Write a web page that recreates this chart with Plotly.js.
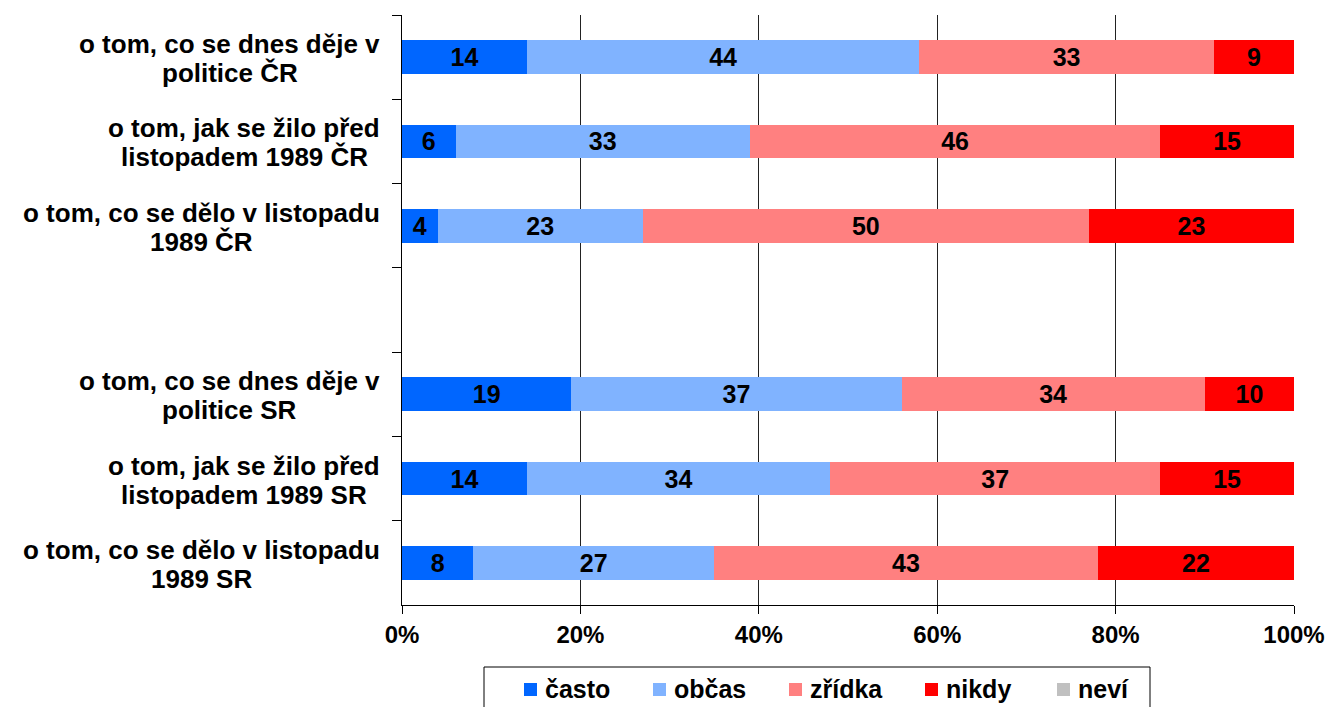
<!DOCTYPE html>
<html>
<head>
<meta charset="utf-8">
<script src="https://cdn.plot.ly/plotly-3.0.1.min.js"></script>
<style>html,body{margin:0;padding:0;background:#fff;}#chart{width:1328px;height:707px;}</style>
</head>
<body>
<div id="chart"></div>
<script>
// Categories from top to bottom (one empty spacer slot); each label has two lines
const categories = ["cr_now", "cr_before", "cr_nov", "gap", "sr_now", "sr_before", "sr_nov"];
const labelLine1 = [
  "o tom, co se dnes děje v",
  "o tom, jak se žilo před",
  "o tom, co se dělo v listopadu",
  "",
  "o tom, co se dnes děje v",
  "o tom, jak se žilo před",
  "o tom, co se dělo v listopadu"
];
const labelLine2 = [
  "politice ČR",
  "listopadem 1989 ČR",
  "1989 ČR",
  "",
  "politice SR",
  "listopadem 1989 SR",
  "1989 SR"
];
const barCategories = ["cr_now", "cr_before", "cr_nov", "sr_now", "sr_before", "sr_nov"];
const casto  = [14, 6, 4, 19, 14, 8];
const obcas  = [44, 33, 23, 37, 34, 27];
const zridka = [33, 46, 50, 34, 37, 43];
const nikdy  = [9, 15, 23, 10, 15, 22];
const nevi   = [0, 0, 0, 0, 0, 0];
const seriesNames = ["často", "občas", "zřídka", "nikdy", "neví"];
const xTicks = [0, 20, 40, 60, 80, 100];

const colors = ["#0066FF", "#80B3FF", "#FF8080", "#FF0000", "#C0C0C0"];
const FONT = "Liberation Sans, Arial, sans-serif";
const seriesData = [casto, obcas, zridka, nikdy, nevi];

const traces = seriesData.map((vals, i) => ({
  type: "bar",
  orientation: "h",
  name: seriesNames[i],
  y: barCategories,
  x: vals,
  marker: {color: colors[i], line: {width: 0}},
  text: vals.map(v => v > 0 ? String(v) : ""),
  textposition: "inside",
  insidetextanchor: "middle",
  textangle: 0,
  constraintext: "none",
  textfont: {family: FONT, size: 25, color: "#000", weight: "bold"},
  hoverinfo: "skip"
}));

const L = 402, R = 1294, T = 15, B = 605;
const PW = R - L, PH = B - T;
const px2x = p => (p - L) / PW;
const px2y = p => (B - p) / PH;

const layout = {
  width: 1328, height: 707,
  margin: {l: L, r: 1328 - R, t: T, b: 707 - B},
  paper_bgcolor: "#fff", plot_bgcolor: "#fff",
  barmode: "stack",
  bargap: 0.6,
  showlegend: false,
  font: {family: FONT, size: 24, color: "#000", weight: "bold"},
  xaxis: {
    range: [0, 100],
    tickvals: xTicks,
    ticktext: xTicks.map(v => v + "%"),
    showgrid: true, gridcolor: "#222", gridwidth: 1,
    zeroline: false,
    showline: true, linecolor: "#000", linewidth: 1,
    ticks: "outside", ticklen: 8, tickcolor: "#000",
    tickfont: {family: FONT, size: 24, color: "#000", weight: "bold"},
    fixedrange: true
  },
  yaxis: {
    type: "category",
    categoryorder: "array",
    categoryarray: categories,
    autorange: false,
    range: [6.5, -0.5],
    tickson: "boundaries",
    ticks: "outside", ticklen: 9, tickcolor: "#000",
    showline: true, linecolor: "#000", linewidth: 1,
    showgrid: false,
    showticklabels: false,
    fixedrange: true
  },
  shapes: [{
    type: "rect", xref: "paper", yref: "paper",
    x0: px2x(484), x1: px2x(1150),
    y0: px2y(712), y1: px2y(667),
    line: {color: "#000", width: 1}, fillcolor: "rgba(0,0,0,0)"
  }]
};

// Category labels: two centred lines, block right-aligned next to the axis
const LABEL_SIZE = 26;
const ctx = document.createElement("canvas").getContext("2d");
ctx.font = "bold " + LABEL_SIZE + "px 'Liberation Sans', Arial, sans-serif";
const annotations = [];
const labelRight = 380;
categories.forEach((c, i) => {
  if (!labelLine1[i]) return;
  const w1 = ctx.measureText(labelLine1[i]).width;
  const w2 = ctx.measureText(labelLine2[i]).width;
  const wmax = Math.max(w1, w2);
  const cx = labelRight - wmax / 2;
  [[labelLine1[i], 13], [labelLine2[i], -16]].forEach(([t, sh]) => {
    annotations.push({
      xref: "paper", yref: "y",
      x: px2x(cx), y: i,
      xanchor: "center", yanchor: "middle",
      yshift: sh,
      text: t, showarrow: false,
      font: {family: FONT, size: LABEL_SIZE, color: "#000", weight: "bold"}
    });
  });
});

// Legend built from the series names / colours (squares + labels)
const legendX = [524, 653, 789, 925, 1057];
seriesNames.forEach((n, i) => {
  layout.shapes.push({
    type: "rect", xref: "paper", yref: "paper",
    x0: px2x(legendX[i]), x1: px2x(legendX[i] + 13),
    y0: px2y(696), y1: px2y(683),
    line: {width: 0}, fillcolor: colors[i]
  });
  annotations.push({
    xref: "paper", yref: "paper",
    x: px2x(legendX[i] + 19), y: px2y(689),
    xanchor: "left", yanchor: "middle",
    text: n, showarrow: false,
    font: {family: FONT, size: 25, color: "#000", weight: "bold"}
  });
});
layout.annotations = annotations;

Plotly.newPlot("chart", traces, layout, {displayModeBar: false, staticPlot: true});
</script>
</body>
</html>
